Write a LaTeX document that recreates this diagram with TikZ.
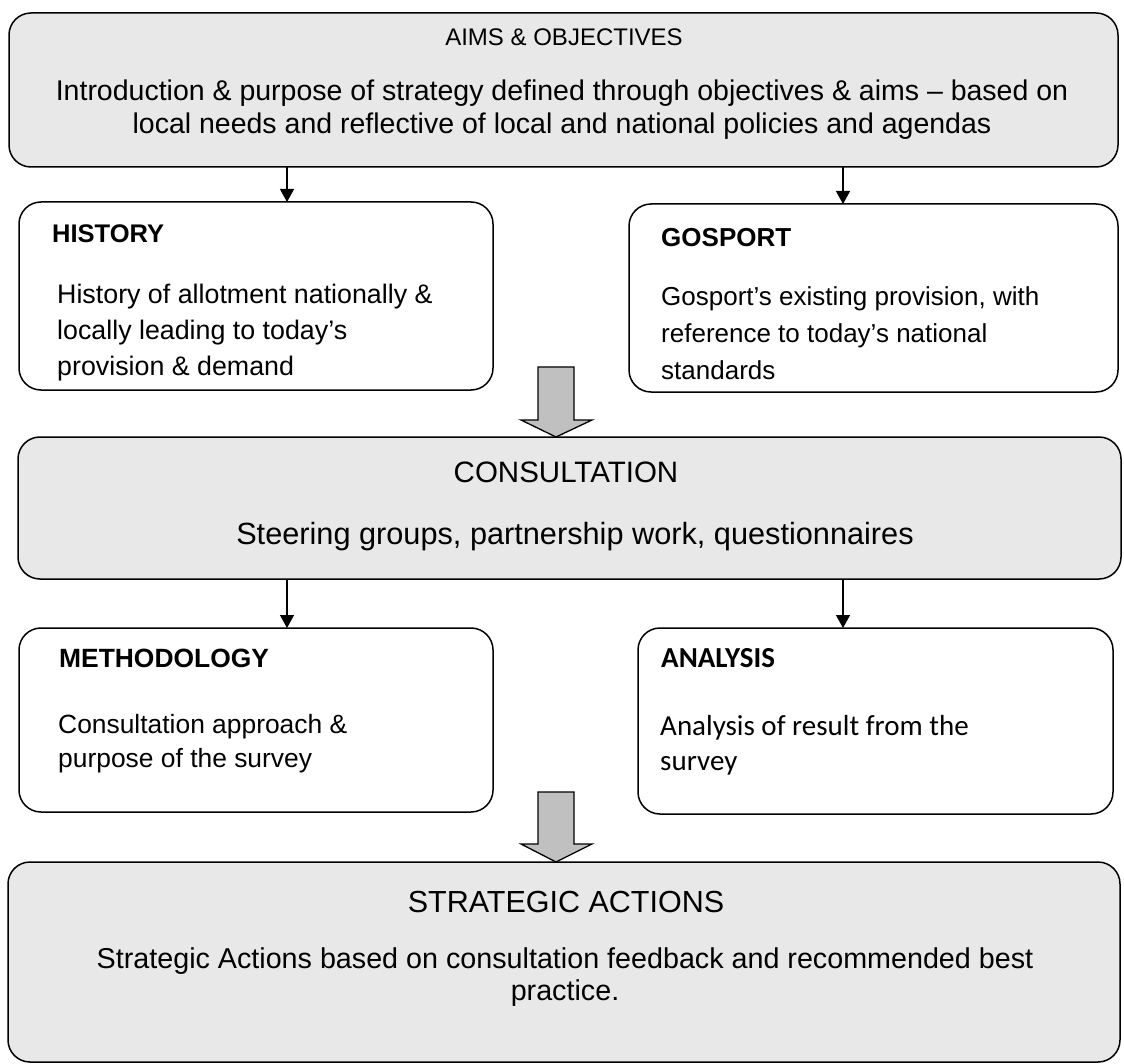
\documentclass[tikz,border=0pt]{standalone}
\usepackage{fontspec}
\setmainfont{Liberation Sans}
\newfontfamily\calibrifont{Carlito}
\usetikzlibrary{arrows.meta,calc}
\definecolor{boxgray}{HTML}{E8E8E8}
\definecolor{arrowgray}{HTML}{C0C0C0}
\newcommand\fsz[1]{\fontsize{#1}{#1}\selectfont}
\begin{document}
\begin{tikzpicture}[x=1pt,y=-1pt,
  box/.style={draw=black, line width=1.5pt, rounded corners=22pt, inner sep=0pt, outer sep=0pt},
  graybox/.style={box, fill=boxgray},
  link/.style={line width=1.3pt, -{Triangle[width=14pt,length=13pt]}},
  blockarrow/.style={draw=black, line width=1.3pt, fill=arrowgray, line join=miter},
  ltxt/.style={inner sep=0pt, anchor=base west},
  ctxt/.style={inner sep=0pt, anchor=base}]
\useasboundingbox (0,0) rectangle (1124,1064);
\fill[white] (0,0) rectangle (1124,1064);

% boxes
\node[graybox, minimum width=1109pt, minimum height=154pt] (aims) at (563.5,90) {};
\node[box, minimum width=474pt, minimum height=188pt] (history) at (256,296) {};
\node[box, minimum width=489pt, minimum height=188pt] (gosport) at (873.5,298) {};
\node[graybox, minimum width=1103pt, minimum height=142pt] (consult) at (569.5,508) {};
\node[box, minimum width=474pt, minimum height=184pt] (method) at (256,720) {};
\node[box, minimum width=475pt, minimum height=186pt] (analysis) at (875.5,721) {};
\node[graybox, minimum width=1112pt, minimum height=200pt] (strategic) at (564,962) {};

% connectors
\coordinate (xl) at (287,0);
\coordinate (xr) at (843,0);
\draw[link] (aims.south -| xl) -- (history.north -| xl);
\draw[link] (aims.south -| xr) -- (gosport.north -| xr);
\draw[link] (consult.south -| xl) -- (method.north -| xl);
\draw[link] (consult.south -| xr) -- (analysis.north -| xr);

% block arrows
\coordinate (xm) at (556,0);
\coordinate (tip1) at (consult.north -| xm);
\coordinate (tip2) at (strategic.north -| xm);
\draw[blockarrow] ($(tip1)+(-18,-70)$) -- ($(tip1)+(18,-70)$) -- ($(tip1)+(18,-17)$) -- ($(tip1)+(36,-17)$) -- (tip1)
  -- ($(tip1)+(-35,-17)$) -- ($(tip1)+(-18,-17)$) -- cycle;
\draw[blockarrow] ($(tip2)+(-18,-70)$) -- ($(tip2)+(18,-70)$) -- ($(tip2)+(18,-18)$) -- ($(tip2)+(36,-18)$) -- (tip2)
  -- ($(tip2)+(-35,-18)$) -- ($(tip2)+(-18,-18)$) -- cycle;

% texts
\node[ctxt, font=\fsz{24}] (aimsT) at (564,46) {AIMS \& OBJECTIVES};
\node[ctxt, font=\fsz{28.5}] (aimsB1) at (562,101) {Introduction \& purpose of strategy defined through objectives \& aims – based on};
\node[ctxt, font=\fsz{28.5}] (aimsB2) at (562,134) {local needs and reflective of local and national policies and agendas};

\node[ltxt, font=\fsz{25.5}\bfseries] (histT) at (52,243) {HISTORY};
\node[ltxt, font=\fsz{26.8}] (histB1) at (57,304) {History of allotment nationally \&};
\node[ltxt, font=\fsz{26.8}] (histB2) at (57,340) {locally leading to today’s};
\node[ltxt, font=\fsz{26.8}] (histB3) at (57,375) {provision \& demand};

\node[ltxt, font=\fsz{26}\bfseries] (gosT) at (661,247) {GOSPORT};
\node[ltxt, font=\fsz{26}] (gosB1) at (661,306) {Gosport’s existing provision, with};
\node[ltxt, font=\fsz{26}] (gosB2) at (661,343) {reference to today’s national};
\node[ltxt, font=\fsz{26}] (gosB3) at (661,379) {standards};

\node[ctxt, font=\fsz{29.5}] (conT) at (566,482) {CONSULTATION};
\node[ctxt, font=\fsz{30.7}] (conB) at (575,544) {Steering groups, partnership work, questionnaires};

\node[ltxt, font=\fsz{26.4}\bfseries] (metT) at (59,667) {METHODOLOGY};
\node[ltxt, font=\fsz{26.4}] (metB1) at (58,733) {Consultation approach \&};
\node[ltxt, font=\fsz{26.4}] (metB2) at (58,767) {purpose of the survey};

\node[ltxt, font=\calibrifont\fsz{29}\bfseries] (anaT) at (661,667) {ANALYSIS};
\node[ltxt, font=\calibrifont\fsz{29}] (anaB1) at (660,735) {Analysis of result from the};
\node[ltxt, font=\calibrifont\fsz{29}] (anaB2) at (660,770) {survey};

\node[ctxt, font=\fsz{30.5}] (strT) at (566,912) {STRATEGIC ACTIONS};
\node[ctxt, font=\fsz{28.7}] (strB1) at (565,968) {Strategic Actions based on consultation feedback and recommended best};
\node[ctxt, font=\fsz{28.7}] (strB2) at (565,1000) {practice.};
\end{tikzpicture}
\end{document}
